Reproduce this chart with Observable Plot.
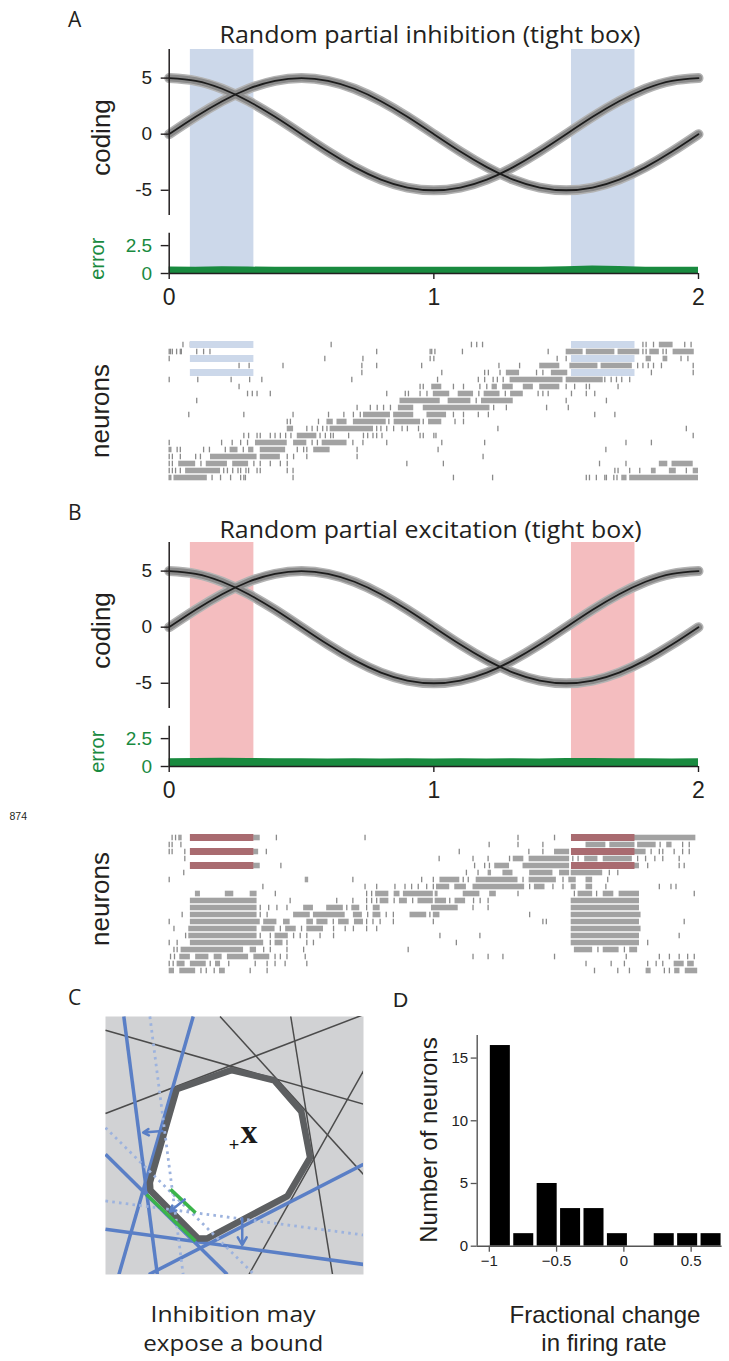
<!DOCTYPE html>
<html><head><meta charset="utf-8">
<script src="https://cdn.jsdelivr.net/npm/d3@7"></script>
<script src="https://cdn.jsdelivr.net/npm/@observablehq/plot@0.6"></script>
<style>
body{margin:0;background:#fff;}
#fig{position:relative;width:729px;height:1361px;overflow:hidden;background:#fff;}
#fig svg{position:absolute;overflow:visible;}
</style></head><body><div id="fig"></div>
<script>
// ---------------- data: panels A & B ----------------
const timeDomain = [0, 2];
const timeTicks = [0, 1, 2];
const codingDomain = [-7.25, 7.55];
const codingTicks = [-5, 0, 5];
const errorDomain = [0, 5.2];
const errorAxisTop = 3.6;
const errorTicks = [0, 2.5];
const sampleT = [0,0.1,0.2,0.3,0.4,0.5,0.6,0.7,0.8,0.9,1,1.1,1.2,1.3,1.4,1.5,1.6,1.7,1.8,1.9,2];
const codingSignal1 = [5.00,4.76,4.05,2.94,1.55,0.00,-1.55,-2.94,-4.05,-4.76,-5.00,-4.76,-4.05,-2.94,-1.55,0.00,1.55,2.94,4.05,4.76,5.00];
const codingSignal2 = [0.00,1.55,2.94,4.05,4.76,5.00,4.76,4.05,2.94,1.55,0.00,-1.55,-2.94,-4.05,-4.76,-5.00,-4.76,-4.05,-2.94,-1.55,0.00];
const errorA = [0.58,0.56,0.60,0.58,0.55,0.56,0.55,0.57,0.55,0.56,0.55,0.56,0.55,0.57,0.56,0.60,0.68,0.62,0.57,0.56,0.55];
const errorB = [0.70,0.72,0.75,0.72,0.70,0.70,0.68,0.70,0.68,0.70,0.68,0.70,0.68,0.70,0.68,0.72,0.72,0.70,0.70,0.68,0.70];
const perturbStart = [0.08, 1.52];
const perturbEnd = [0.32, 1.76];
const perturbedNeurons = [0, 2, 4];
const neuronIds = [0,1,2,3,4,5,6,7,8,9,10,11,12,13,14,15,16,17,18,19];
// spike rasters: one string per neuron; "t" = single spike, "t1-t2" = dense burst
const spikesA = [
 ".052 .08 .612 1.142 1.162 1.184 1.79 1.802 1.83 1.852-1.904 1.948 1.972",
 "0 .005 .012 .028 .042 .046 .104 .13 .154 .784 .986 .992 1.004 1.108 1.432 1.5-1.564 1.576-1.684 1.696-1.778 1.79 1.802 1.816-1.852 1.866 1.878 1.904-1.984",
 "0 .588 .732 .986 1.0 1.466 1.5 1.802-1.822 1.866-1.884 1.934 1.96",
 ".264 .302 .43 .728 .784 .954 1.246 1.324 1.4-1.476 1.514-1.62 1.632-1.75 1.77 1.79 1.81 1.83 1.86 1.98",
 ".728 1.03 1.192 1.206 1.25 1.274-1.324 1.388 1.412 1.444-1.506 1.822 1.98",
 "0 .108 .234 .304 .35 .69 1.014 1.168 1.192 1.224 1.24 1.262 1.288-1.488 1.5-1.64 1.646 1.67 1.69 1.71 1.74",
 ".264 .948 .96 .992-1.03 1.074 1.112 1.174 1.2 1.22-1.24 1.26-1.3 1.338-1.376 1.4-1.476 1.5 1.532 1.576 1.588 1.696",
 ".296 .314 .332 .382 .822 .892 .904 .948 .974 .998-1.06 1.092-1.15 1.17 1.19-1.25 1.27 1.29-1.338 1.394 1.412 1.432 1.52 1.576 1.608",
 ".104 .872-1.024 1.054-1.14 1.16 1.18-1.3 1.5 1.652",
 ".71 .76 .786 .81 .836 .866-.924 .96-1.212 1.226 1.274 1.426 1.508",
 ".074 .282 .468 .602 .66 .696 .722 .734-.836 .848-.924 .974-1.048 1.074 1.112 1.168 1.206 1.608 1.684",
 ".446 .458 .564 .596-.62 .634-.672 .696-.82 .83 .85-.95 .96 .98-1.03 1.08 1.112",
 ".446-.47 .52 .54 .56 .58 .596 .608-.772 .784 .8 .822 .848 .88 .9 .942 1.242 1.954",
 ".282 .3 .332 .344 .382 .4 .42 .44 .46 .484-.558 .57 .59 .61 .62 .678 .734 .75 .77 .784 .804 .948 .96 1.0 1.008 1.98",
 "0 .198 .238 .27 .296 .326-.446 .47-.52 .54 .56 .578-.672 .694 .732 .822 1.03 1.192 1.726 1.822",
 "0 .006 .03 .042 .13 .152 .212 .23-.26 .28 .3-.32 .344-.44 .484 .508 .52 .546-.608 .71 1.016 1.65",
 "0 .012 .042 .1 .118 .156-.332 .344-.42 .446 .47 .52 .71 1.186",
 "0 .012 .036-.1 .12 .14-.22 .24-.3 .32 .344 .382 .42 .446 .898 1.036 1.626 1.726 1.852-1.884 1.9-1.98",
 "0 .012 .024 .042 .062-.194 .206 .22 .24 .26 .27 .29 .3 .332 .344 .446 .468 1.684 1.696 1.74 1.778 1.822-1.84 1.89-1.916 1.954 1.98-2",
 "0 .006 .018-.144 .162 .194 .232 .27 .282 .288 .468 1.074 1.222 1.576 1.588 1.614 1.646 1.652 1.68 1.692 1.71-1.73 1.74-2"
];
const spikesB = [
 ".011 .024 .036-.049 .319-.344 .405 .74 1.318 1.456 1.758-1.99",
 "0 .011 .043-.049 1.209 1.318 1.412 1.575-1.65 1.665-1.76 1.77-1.84 1.855 1.88-1.9 1.94 1.965",
 "0 .011 .059 .319-.338 .367 1.096 1.359 1.412 1.456-1.513 1.758-1.802 1.821 1.852 1.865 1.908 1.94 1.965",
 ".059 1.02 1.148 1.205 1.286 1.3-1.34 1.36-1.513 1.525 1.545 1.57-1.62 1.64-1.75 1.77 1.8 1.835 1.865 1.927",
 ".319-.344 .422 1.154 1.192 1.21 1.23-1.286 1.337-1.513 1.758-1.777 1.808 1.927 1.946",
 ".055 1.123 1.167 1.205-1.218 1.261-1.299 1.362-1.45 1.475-1.513 1.519-1.638 1.663 1.695",
 "0 .514-.527 .694 .954 .998 1.023-1.098 1.111 1.13 1.16-1.318 1.337 1.36-1.463 1.488 1.51-1.538 1.575-1.6 1.657",
 ".354 .74 .784 .853 .891 .916 .941 .973 .998 1.01-1.06 1.079-1.123 1.148-1.343 1.362 1.38-1.42 1.45 1.488 1.519-1.538 1.575-1.6 1.65 1.852 1.896 1.915",
 ".099-.118 .212-.244 .306-.332 .401 .746 .765 .78-.83 .85-.872 .885-.998 1.005-1.016 1.111-1.174 1.211-1.236 1.318 1.531 1.545-1.6 1.615 1.64-1.68 1.7-1.777 1.984",
 ".08-.332 .457 .633 .694 .746 .765 .784 .797-.83 .85 .87-.9 .92 .94-.998 1.005-1.048 1.06 1.08-1.12 1.15 1.175 1.205 1.519-1.777",
 ".08-.332 .344 .376 .407 .445 .508-.545 .595-.658 .671 .69-.72 .746 .771-.797 .991-1.092 1.148 1.205 1.519-1.777",
 ".049 .08-.332 .344 .37 .47-.533 .545-.665 .696-.73 .75 .77-.8 .82 .847 .91-.973 .985 .998-1.023 1.362 1.519-1.783",
 "0 .08-.344 .357-.407 .432-.457 .52-.545 .558-.6 .62 .64-.68 .7-.734 .746 .77 .797 .847 .998 1.412 1.425 1.519-1.777 1.946",
 ".018 .074-.332 .35-.4 .42 .44-.48 .5 .52-.583 .621 .665 .696 .746 .784 1.519-1.783",
 ".062 .074-.332 .344 .382 .4-.45 .47 .495 .52 .57 .621 1.023 1.174 1.519-1.777 1.927",
 "0 .03 .08-.357 .382 .4-.43 .445 .52 .545 1.085 1.519-1.777 1.808",
 ".018 .03 .045-.281 .306-.33 .357 .382 .445 .508 .903 1.531-1.6 1.62 1.64-1.7 1.72 1.74-1.77",
 ".005 .02 .04-.08 .1-.15 .17-.2 .22-.3 .32-.38 .4 .42 .445 .514 1.148 1.205 1.261 1.456 1.727 1.852 1.89 1.927 1.959 1.984",
 "0 .015 .03-.06 .08-.14 .155 .175-.194 .225 .325 .37 .4 .438 .52 1.575 1.67 1.72 1.808 1.84 1.865 1.908-1.946 1.959-1.984",
 "0-.02 .04-.1 .12 .14 .17 .19-.212 .306 .37 1.607 1.695 1.739 1.802-1.821 1.871 1.89 1.91-1.93 1.95-1.997"
];

// ---------------- data: panel C (diagram, 0-100 units, y downward) ----------------
const cDomain = [0, 100];
const cDarkBounds = [[0,5.3,100,34.0],[0,37.6,100,-0.7],[44.4,0,100,61.2],[71.8,0,88,100],[100,21.1,55.6,100]];
const cBlueBounds = [[7.1,0,20.1,100],[34.0,0,5.2,100],[0,53.4,47.2,100],[0,82.5,100,96.1],[16.8,100,100,57.3]];
const cDottedBounds = [[17.2,0,30.1,100],[0,43.1,57.6,100],[0,71.5,100,84.7]];
const cArrows = [[22,44.4,14.6,45.0],[30.7,70.9,25.0,75.6],[53,78.3,53,88.6]];
const cGreen = [[15.9,69,34.9,87.1],[25.2,67,34.9,76.1]];
const cPolyU = [27.6,48.8,65.3,75.9,79.3,70.5,39.5,35.8,17.4,17.2];
const cPolyV = [28.2,20.8,24.7,36.9,54.7,69.6,86.0,86.0,67.4,64.4];
const cPoint = [[49.8,49.8]];
const cLabel = [[55.6,45.0,"x"]];

// ---------------- data: panel D (histogram) ----------------
const histEdges = [-1.005,-0.831,-0.657,-0.483,-0.309,-0.135,0.039,0.213,0.387,0.561,0.735];
const histCounts = [16,1,5,3,3,1,0,1,1,1];
const histXDomain = [-1.09, 0.73];
const histYDomain = [0, 16.8];
const histXTicks = [-1, -0.5, 0, 0.5];
const histYTicks = [0, 5, 10, 15];

// ---------------- drawing ----------------
const ink = "#231f20";
const green = "#198a3f";
const fig = document.getElementById("fig");
function place(svg, left, top) { svg.style.left = left + "px"; svg.style.top = top + "px"; fig.appendChild(svg); }

const bands = perturbStart.map((s, i) => ({start: s, end: perturbEnd[i]}));
const curves = sampleT.map((t, i) => ({t, a: codingSignal1[i], b: codingSignal2[i]}));

function codingPanel(bandFill) {
  return Plot.plot({
    width: 729, height: 185, marginLeft: 168.7, marginRight: 31, marginTop: 9, marginBottom: 10,
    style: {fontFamily: "Liberation Sans", color: ink, background: "transparent", overflow: "visible"},
    x: {domain: timeDomain, axis: null},
    y: {domain: codingDomain, axis: null},
    marks: [
      Plot.rect(bands, {x1: "start", x2: "end", fill: bandFill}),
      Plot.line(curves, {x: "t", y: "a", stroke: "#b3b3b3", strokeWidth: 10, curve: "natural"}),
      Plot.line(curves, {x: "t", y: "b", stroke: "#b3b3b3", strokeWidth: 10, curve: "natural"}),
      Plot.line(curves, {x: "t", y: "a", stroke: "#8a8a8a", strokeWidth: 7, curve: "natural"}),
      Plot.line(curves, {x: "t", y: "b", stroke: "#8a8a8a", strokeWidth: 7, curve: "natural"}),
      Plot.line(curves, {x: "t", y: "a", stroke: "#1c1c1c", strokeWidth: 1.8, curve: "natural"}),
      Plot.line(curves, {x: "t", y: "b", stroke: "#1c1c1c", strokeWidth: 1.8, curve: "natural"}),
      Plot.ruleX([timeDomain[0]], {y1: codingDomain[0], y2: codingDomain[1], stroke: ink, strokeWidth: 1.5}),
      Plot.axisY(codingTicks, {anchor: "left", tickSize: 8, tickPadding: 9, fontSize: 19, strokeWidth: 1.4, tickFormat: d => String(d), label: null})
    ]
  });
}
function errorPanel(bandFill, err) {
  const rows = sampleT.map((t, i) => ({t, e: err[i]}));
  return Plot.plot({
    width: 729, height: 93, marginLeft: 168.7, marginRight: 31, marginTop: 0, marginBottom: 35,
    style: {fontFamily: "Liberation Sans", color: ink, background: "transparent", overflow: "visible"},
    x: {domain: timeDomain, axis: null},
    y: {domain: errorDomain, axis: null},
    marks: [
      Plot.rect(bands, {x1: "start", x2: "end", fill: bandFill}),
      Plot.areaY(rows, {x: "t", y: "e", fill: green}),
      Plot.ruleY([errorDomain[0]], {x1: timeDomain[0], x2: timeDomain[1], stroke: ink, strokeWidth: 1.5}),
      Plot.ruleX([timeDomain[0]], {y1: errorDomain[0], y2: errorAxisTop, stroke: ink, strokeWidth: 1.5}),
      Plot.axisY(errorTicks, {anchor: "left", tickSize: 8, tickPadding: 9, fontSize: 19, strokeWidth: 1.4, stroke: ink, fill: green, tickFormat: d => String(d), label: null}),
      Plot.axisX(timeTicks, {anchor: "bottom", tickSize: 6, tickPadding: 9, fontSize: 23, strokeWidth: 1.4, tickFormat: d => String(d), label: null})
    ]
  });
}
function parseSpikes(rows) {
  const ticks = [], runs = [];
  rows.forEach((s, row) => s.trim().split(/\s+/).forEach(tok => {
    const k = tok.indexOf("-");
    if (k > 0) runs.push({row, x1: +tok.slice(0, k), x2: +tok.slice(k + 1)});
    else ticks.push({row, t: +tok});
  }));
  return {ticks, runs};
}
function rasterPanel(rows, barFill, mt, mb) {
  const {ticks, runs} = parseSpikes(rows);
  const bars = [];
  perturbedNeurons.forEach(r => bands.forEach(b => bars.push({row: r, x1: b.start, x2: b.end})));
  return Plot.plot({
    width: 729, height: 150, marginLeft: 168.7, marginRight: 31, marginTop: mt, marginBottom: mb,
    style: {background: "transparent", overflow: "visible"},
    x: {domain: timeDomain, axis: null},
    y: {type: "band", domain: neuronIds, padding: 0, axis: null},
    marks: [
      Plot.barX(runs, {x1: "x1", x2: "x2", y: "row", fill: "#a2a2a2", insetTop: 0.7, insetBottom: 0.7}),
      Plot.tickX(ticks, {x: "t", y: "row", stroke: "#8a8a8a", strokeWidth: 1.3, insetTop: 0.7, insetBottom: 0.7}),
      Plot.barX(bars, {x1: "x1", x2: "x2", y: "row", fill: barFill})
    ]
  });
}

place(codingPanel("#ccd8ea"), 0, 40);
place(errorPanel("#ccd8ea", errorA), 0, 215);
place(rasterPanel(spikesA, "#ccd8ea", 3.7, 2.7), 0, 335);
place(codingPanel("#f4bdbf"), 0, 533);
place(errorPanel("#f4bdbf", errorB), 0, 708);
place(rasterPanel(spikesB, "#a96b70", 3.45, 4.75), 0, 830);

// Panel C
const lk = a => ({x1: a[0], y1: a[1], x2: a[2], y2: a[3]});
const poly = cPolyU.map((u, i) => ({u, v: cPolyV[i]}));
const blue = "#5a7fc6";
place(Plot.plot({
  width: 258, height: 258, margin: 0,
  style: {background: "transparent", overflow: "visible"},
  x: {domain: cDomain, axis: null},
  y: {domain: cDomain, reverse: true, axis: null},
  marks: [
    Plot.frame({fill: "#d1d2d4", stroke: null}),
    Plot.link(cDarkBounds.map(lk), {x1: "x1", y1: "y1", x2: "x2", y2: "y2", stroke: "#4b4b4b", strokeWidth: 1.5, clip: true}),
    Plot.link(cBlueBounds.map(lk), {x1: "x1", y1: "y1", x2: "x2", y2: "y2", stroke: blue, strokeWidth: 3.5, clip: true}),
    Plot.line(poly, {x: "u", y: "v", curve: "linear-closed", fill: "white", stroke: "#5d5f61", strokeWidth: 6.5, strokeLinejoin: "miter"}),
    Plot.link(cDottedBounds.map(lk), {x1: "x1", y1: "y1", x2: "x2", y2: "y2", stroke: "#9db3de", strokeWidth: 2.8, strokeDasharray: "2.6,4.2", clip: true}),
    Plot.link(cGreen.map(lk), {x1: "x1", y1: "y1", x2: "x2", y2: "y2", stroke: "#3bb44a", strokeWidth: 3.5}),
    Plot.arrow(cArrows.map(lk), {x1: "x1", y1: "y1", x2: "x2", y2: "y2", stroke: blue, strokeWidth: 2.5, headLength: 8}),
    Plot.text(cPoint, {x: d => d[0], y: d => d[1], text: () => "+", fontSize: 18, fontFamily: "Liberation Sans", fill: "#111"}),
    Plot.text(cLabel, {x: d => d[0], y: d => d[1], text: d => d[2], fontSize: 34, fontWeight: "bold", fontFamily: "Liberation Serif", fill: "#1a1a1a"})
  ]
}), 105, 1015.7);

// Panel D
const histBins = histCounts.map((c, i) => ({x1: histEdges[i], x2: histEdges[i + 1], n: c}));
place(Plot.plot({
  width: 349, height: 261, marginLeft: 96.7, marginRight: 7.4, marginTop: 15, marginBottom: 35.3,
  style: {fontFamily: "Liberation Sans", color: "#222", background: "transparent", overflow: "visible"},
  x: {domain: histXDomain, axis: null},
  y: {domain: histYDomain, axis: null},
  marks: [
    Plot.rectY(histBins, {x1: "x1", x2: "x2", y: "n", fill: "#000", insetLeft: 1.7, insetRight: 1.7}),
    Plot.ruleY([histYDomain[0]], {x1: histXDomain[0], x2: histXDomain[1], stroke: "#555", strokeWidth: 1.4}),
    Plot.ruleX([histXDomain[0]], {y1: histYDomain[0], y2: histYDomain[1], stroke: "#555", strokeWidth: 1.4}),
    Plot.axisX(histXTicks, {anchor: "bottom", tickSize: 6, tickPadding: 3, fontSize: 15, stroke: "#555", strokeWidth: 1.3, tickFormat: d3.format(""), label: null}),
    Plot.axisY(histYTicks, {anchor: "left", tickSize: 6, tickPadding: 3, fontSize: 15, stroke: "#555", strokeWidth: 1.3, tickFormat: d3.format(""), label: null})
  ]
}), 380, 1020);

// Free text (labels, titles, captions)
const texts = [
  {t: "A", x: 68, y: 26.7, s: 21, f: "Open Sans"},
  {t: "Random partial inhibition (tight box)", x: 430, y: 42.7, s: 24, f: "Open Sans", a: "middle", len: 421},
  {t: "coding", x: 110, y: 137.5, s: 26, f: "Liberation Sans", a: "middle", r: true},
  {t: "error", x: 104, y: 258.7, s: 20, f: "Liberation Sans", a: "middle", r: true, c: green},
  {t: "neurons", x: 109, y: 411, s: 26, f: "Liberation Sans", a: "middle", r: true},
  {t: "B", x: 68, y: 520, s: 21, f: "Open Sans"},
  {t: "Random partial excitation (tight box)", x: 430.5, y: 538.3, s: 24, f: "Open Sans", a: "middle", len: 422},
  {t: "coding", x: 110, y: 630.5, s: 26, f: "Liberation Sans", a: "middle", r: true},
  {t: "error", x: 104, y: 751.7, s: 20, f: "Liberation Sans", a: "middle", r: true, c: green},
  {t: "874", x: 9.5, y: 820, s: 10.5, f: "Liberation Sans"},
  {t: "neurons", x: 109, y: 899, s: 26, f: "Liberation Sans", a: "middle", r: true},
  {t: "C", x: 68, y: 1005, s: 21, f: "Open Sans"},
  {t: "D", x: 393, y: 1006.7, s: 21, f: "Liberation Sans"},
  {t: "Number of neurons", x: 436.5, y: 1140, s: 24, f: "Liberation Sans", a: "middle", r: true},
  {t: "Inhibition may", x: 233, y: 1322, s: 21.5, f: "Open Sans", a: "middle", len: 165},
  {t: "expose a bound", x: 233.3, y: 1351, s: 21.5, f: "Open Sans", a: "middle", len: 180},
  {t: "Fractional change", x: 605, y: 1323.3, s: 24, f: "Liberation Sans", a: "middle"},
  {t: "in firing rate", x: 604, y: 1350.5, s: 24, f: "Liberation Sans", a: "middle"}
];
const overlay = d3.create("svg").attr("width", 729).attr("height", 1361).style("left", "0px").style("top", "0px").style("pointer-events", "none");
for (const d of texts) {
  const el = overlay.append("text").text(d.t)
    .attr("x", d.x).attr("y", d.y)
    .attr("font-size", d.s).attr("font-family", d.f)
    .attr("text-anchor", d.a || "start")
    .attr("fill", d.c || ink);
  if (d.r) el.attr("transform", `rotate(-90 ${d.x} ${d.y})`);
  if (d.len) el.attr("textLength", d.len).attr("lengthAdjust", "spacingAndGlyphs");
}
fig.appendChild(overlay.node());
</script></body></html>
